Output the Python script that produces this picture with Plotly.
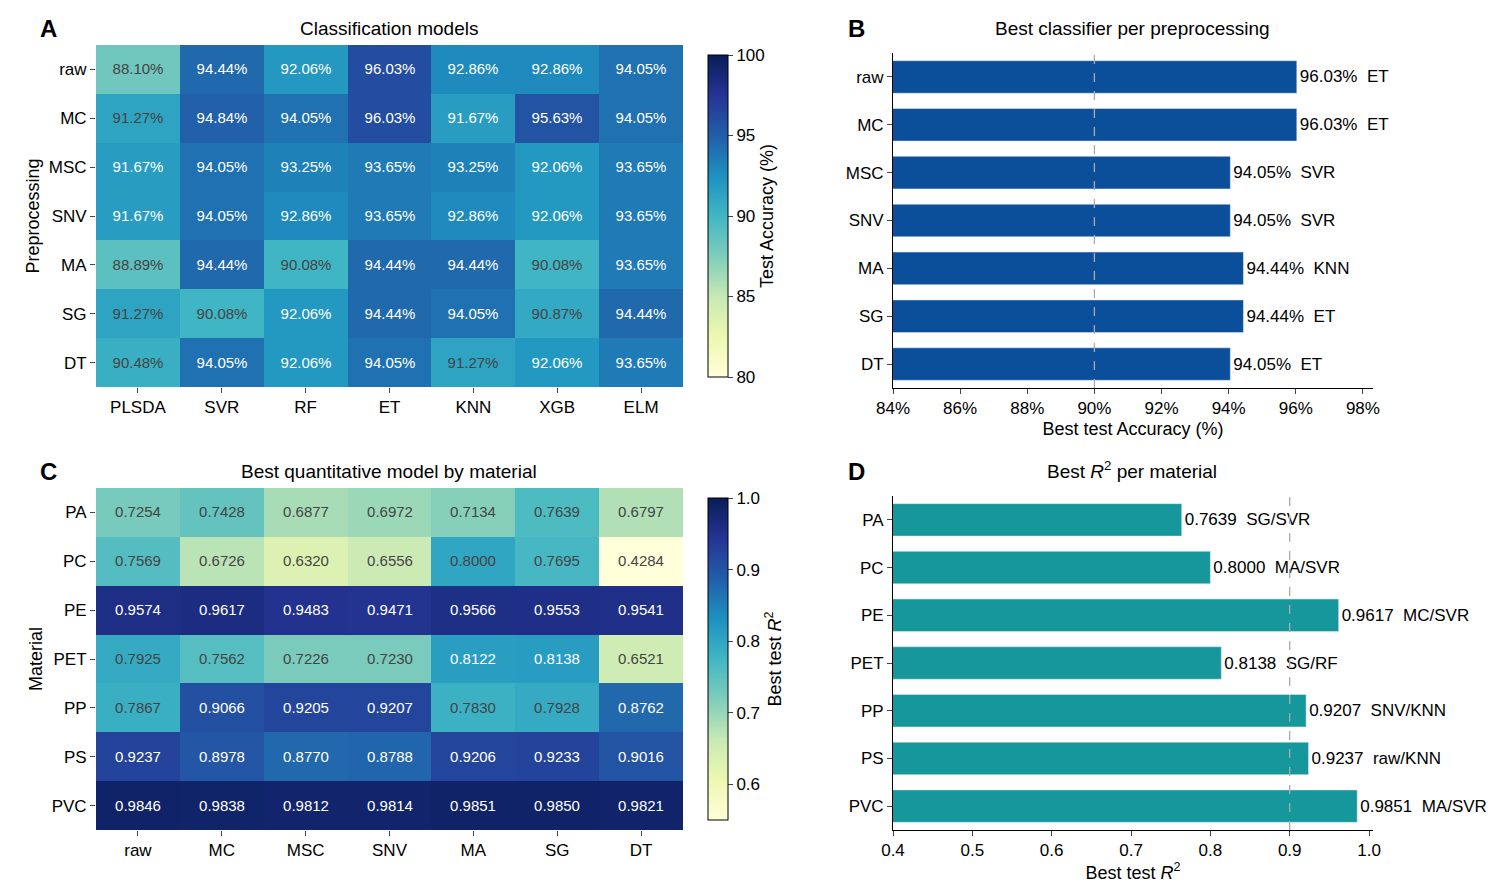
import plotly.graph_objects as go

# Panel A: classification accuracy (%)
prep = ["raw", "MC", "MSC", "SNV", "MA", "SG", "DT"]
models = ["PLSDA", "SVR", "RF", "ET", "KNN", "XGB", "ELM"]
acc = [
    [88.10, 94.44, 92.06, 96.03, 92.86, 92.86, 94.05],
    [91.27, 94.84, 94.05, 96.03, 91.67, 95.63, 94.05],
    [91.67, 94.05, 93.25, 93.65, 93.25, 92.06, 93.65],
    [91.67, 94.05, 92.86, 93.65, 92.86, 92.06, 93.65],
    [88.89, 94.44, 90.08, 94.44, 94.44, 90.08, 93.65],
    [91.27, 90.08, 92.06, 94.44, 94.05, 90.87, 94.44],
    [90.48, 94.05, 92.06, 94.05, 91.27, 92.06, 93.65],
]

# Panel B: best classifier per preprocessing
best_acc = [96.03, 96.03, 94.05, 94.05, 94.44, 94.44, 94.05]
best_clf = ["ET", "ET", "SVR", "SVR", "KNN", "ET", "ET"]

# Panel C: R2 by material
materials = ["PA", "PC", "PE", "PET", "PP", "PS", "PVC"]
r2 = [
    [0.7254, 0.7428, 0.6877, 0.6972, 0.7134, 0.7639, 0.6797],
    [0.7569, 0.6726, 0.6320, 0.6556, 0.8000, 0.7695, 0.4284],
    [0.9574, 0.9617, 0.9483, 0.9471, 0.9566, 0.9553, 0.9541],
    [0.7925, 0.7562, 0.7226, 0.7230, 0.8122, 0.8138, 0.6521],
    [0.7867, 0.9066, 0.9205, 0.9207, 0.7830, 0.7928, 0.8762],
    [0.9237, 0.8978, 0.8770, 0.8788, 0.9206, 0.9233, 0.9016],
    [0.9846, 0.9838, 0.9812, 0.9814, 0.9851, 0.9850, 0.9821],
]

# Panel D: best R2 per material
best_r2 = [0.7639, 0.8000, 0.9617, 0.8138, 0.9207, 0.9237, 0.9851]
best_model = ["SG/SVR", "MA/SVR", "MC/SVR", "SG/RF", "SNV/KNN", "raw/KNN", "MA/SVR"]

ref_acc = 90
ref_r2 = 0.9

W, H = 1506, 891
def px(x): return x / W
def py(y): return 1 - y / H

font = "Liberation Sans, Arial, sans-serif"
fig = go.Figure()

fig.add_trace(go.Heatmap(
    z=acc, x=models, y=prep, colorscale="YlGnBu", zmin=80, zmax=100,
    texttemplate="%{z:.2f}%", textfont=dict(size=15),
    xaxis="x", yaxis="y",
    colorbar=dict(x=px(690), xanchor="left", thickness=20, thicknessmode="pixels",
                  y=py(379), yanchor="bottom", len=py(37) - py(379), lenmode="fraction",
                  outlinewidth=1, outlinecolor="black", tickvals=[80, 85, 90, 95, 100],
                  ticks="outside", tickfont=dict(size=17),
                  title=dict(text="Test Accuracy (%)", side="right", font=dict(size=18))),
))

fig.add_trace(go.Bar(
    x=best_acc, y=prep, orientation="h", marker_color="#0b4f9b", width=0.68,
    text=[f"{v:.2f}%  {m}" for v, m in zip(best_acc, best_clf)],
    textposition="outside", textfont=dict(size=17, color="black"),
    cliponaxis=False, xaxis="x2", yaxis="y2",
))

fig.add_trace(go.Heatmap(
    z=r2, x=prep, y=materials, colorscale="YlGnBu", zmin=0.55, zmax=1.0,
    texttemplate="%{z:.4f}", textfont=dict(size=15),
    xaxis="x3", yaxis="y3",
    colorbar=dict(x=px(690), xanchor="left", thickness=20, thicknessmode="pixels",
                  y=py(822), yanchor="bottom", len=py(480) - py(822), lenmode="fraction",
                  outlinewidth=1, outlinecolor="black", tickvals=[0.6, 0.7, 0.8, 0.9, 1.0],
                  tickformat=".1f", ticks="outside", tickfont=dict(size=17),
                  title=dict(text="Best test <i>R</i><sup>2</sup>", side="right", font=dict(size=18))),
))

fig.add_trace(go.Bar(
    x=best_r2, y=materials, orientation="h", marker_color="#15979c", width=0.68,
    text=[f"{v:.4f}  {m}" for v, m in zip(best_r2, best_model)],
    textposition="outside", textfont=dict(size=17, color="black"),
    cliponaxis=False, xaxis="x4", yaxis="y4",
))

for xv, xa, ya in [(ref_acc, "x2", "y2 domain"), (ref_r2, "x4", "y4 domain")]:
    fig.add_shape(type="line", x0=xv, x1=xv, y0=0, y1=1, xref=xa, yref=ya,
                  line=dict(color="#aaaaaa", width=1.3, dash="dash"))

axline = dict(showline=True, linecolor="black", linewidth=1, ticks="outside",
              tickfont=dict(size=17), showgrid=False, zeroline=False, automargin=False)
hm = dict(tickfont=dict(size=17), ticks="outside", showgrid=False, zeroline=False,
          automargin=False)

fig.update_layout(
    width=W, height=H, margin=dict(l=0, r=0, t=0, b=0, autoexpand=False),
    paper_bgcolor="white", plot_bgcolor="white", showlegend=False,
    font=dict(family=font, color="black"),
    xaxis=dict(domain=[px(88), px(675)], anchor="y", **hm),
    yaxis=dict(domain=[py(379), py(37)], anchor="x", autorange="reversed",
               title=dict(text="Preprocessing", font=dict(size=18), standoff=4), **hm),
    xaxis2=dict(domain=[px(885), px(1365)], anchor="y2", range=[84, 98.3], dtick=2,
                ticksuffix="%", title=dict(text="Best test Accuracy (%)", font=dict(size=18), standoff=4), **axline),
    yaxis2=dict(domain=[py(380), py(45)], anchor="x2", autorange="reversed", **axline),
    xaxis3=dict(domain=[px(88), px(675)], anchor="y3", **hm),
    yaxis3=dict(domain=[py(822), py(480)], anchor="x3", autorange="reversed",
                title=dict(text="Material", font=dict(size=18), standoff=4), **hm),
    xaxis4=dict(domain=[px(885), px(1365)], anchor="y4", range=[0.4, 1.005], dtick=0.1,
                tickformat=".1f", title=dict(text="Best test <i>R</i><sup>2</sup>", font=dict(size=18), standoff=4), **axline),
    yaxis4=dict(domain=[py(822), py(488)], anchor="x4", autorange="reversed", **axline),
)

titles = [
    ("Classification models", 381, 20), ("Best classifier per preprocessing", 1124, 20),
    ("Best quantitative model by material", 381, 464), ("Best <i>R</i><sup>2</sup> per material", 1124, 462),
]
for t, x, y in titles:
    fig.add_annotation(text=t, x=px(x), y=py(y), xref="paper", yref="paper",
                       xanchor="center", yanchor="middle",
                       showarrow=False, font=dict(size=19))
for t, x, y in [("A", 40, 20), ("B", 848, 20), ("C", 40, 464), ("D", 848, 464)]:
    fig.add_annotation(text=f"<b>{t}</b>", x=px(x), y=py(y), xref="paper", yref="paper",
                       xanchor="center", yanchor="middle",
                       showarrow=False, font=dict(size=24))

fig.write_html("out.html")
